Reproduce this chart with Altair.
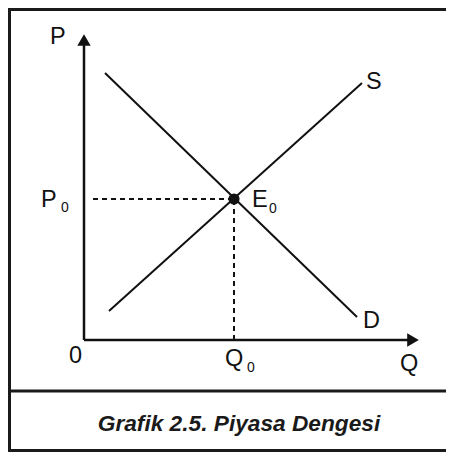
import altair as alt
import pandas as pd

# Supply / demand curves (start -> end), in Q/P units
curve_names = ["D", "S"]
curve_q1 = [21, 25]
curve_p1 = [267, 29]
curve_q2 = [273, 278]
curve_p2 = [23, 257]

# Equilibrium
eq_q = [150]
eq_p = [141]

# Axes extents
axis_q_end = 325
axis_p_end = 296
arrow_q = [0, 329]
arrow_p = [300, 0]
arrow_shape = ["triangle-up", "triangle-right"]

# Dashed guide start
guide_q_start = 9

# Main labels (left x, baseline y)
label_text = ["P", "S", "P", "E", "D", "0", "Q", "Q"]
label_q = [-34, 282, -43, 168, 279, -15, 141, 316]
label_p = [296, 251, 133, 133, 12, -23, -26, -31]

# Subscripts
sub_text = ["0", "0", "0"]
sub_q = [-23, 185, 163]
sub_p = [128, 127, -32]

caption = ["Grafik 2.5. Piyasa Dengesi"]

W, H = 438, 444
FONT = "Liberation Sans"
INK = "#111111"

xs = alt.Scale(domain=[-76, 362], nice=False, zero=False)
ys = alt.Scale(domain=[332 - H, 332], nice=False, zero=False)
X = lambda f: alt.X(f, type="quantitative", scale=xs, axis=None)
Y = lambda f: alt.Y(f, type="quantitative", scale=ys, axis=None)

axes_df = pd.DataFrame({"q": [0, 0], "p": [0, 0], "q2": [0, axis_q_end], "p2": [axis_p_end, 0]})
axes = alt.Chart(axes_df).mark_rule(color=INK, strokeWidth=2.5).encode(
    x=X("q"), y=Y("p"), x2="q2", y2="p2")

arrows_df = pd.DataFrame({"q": arrow_q, "p": arrow_p, "shape": arrow_shape})
arrows = alt.Chart(arrows_df).mark_point(filled=True, color=INK, size=180, opacity=1).encode(
    x=X("q"), y=Y("p"), shape=alt.Shape("shape:N", scale=None, legend=None))

guides_df = pd.DataFrame({"q": [guide_q_start, eq_q[0]], "p": [eq_p[0], 0],
                          "q2": [eq_q[0], eq_q[0]], "p2": [eq_p[0], eq_p[0]]})
guides = alt.Chart(guides_df).mark_rule(color=INK, strokeWidth=2, strokeDash=[5, 4]).encode(
    x=X("q"), y=Y("p"), x2="q2", y2="p2")

curves_df = pd.DataFrame({"name": curve_names, "q": curve_q1, "p": curve_p1, "q2": curve_q2, "p2": curve_p2})
curves = alt.Chart(curves_df).mark_rule(color=INK, strokeWidth=2).encode(
    x=X("q"), y=Y("p"), x2="q2", y2="p2", detail="name:N")

eq_df = pd.DataFrame({"q": eq_q, "p": eq_p})
eq = alt.Chart(eq_df).mark_circle(color=INK, size=125, opacity=1).encode(x=X("q"), y=Y("p"))

labels_df = pd.DataFrame({"t": label_text, "q": label_q, "p": label_p})
labels = alt.Chart(labels_df).mark_text(font=FONT, fontSize=23.5, color=INK, align="left",
                                        baseline="alphabetic").encode(x=X("q"), y=Y("p"), text="t:N")

subs_df = pd.DataFrame({"t": sub_text, "q": sub_q, "p": sub_p})
subs = alt.Chart(subs_df).mark_text(font=FONT, fontSize=14, color=INK, align="left",
                                    baseline="alphabetic").encode(x=X("q"), y=Y("p"), text="t:N")

cap_df = pd.DataFrame({"t": caption})
cap = alt.Chart(cap_df).mark_text(font=FONT, fontSize=22.7, fontWeight="bold", fontStyle="italic",
                                  color="#1a1a1a", align="center", baseline="alphabetic").encode(
    x=alt.value(231), y=alt.value(423), text="t:N")

border_df = pd.DataFrame({"k": ["top", "sep", "bottom"], "yy": [1.5, 383, H - 1.5]})
hborders = alt.Chart(border_df).mark_rule(color="#1a1a1a", strokeWidth=3).encode(
    y=alt.Y("yy:Q", scale=None), x=alt.value(0), x2=alt.value(W))
vborder = alt.Chart(pd.DataFrame({"k": ["left"]})).mark_rule(color="#1a1a1a", strokeWidth=3).encode(
    x=alt.value(1.5), y=alt.value(0), y2=alt.value(H))

chart = alt.layer(axes, arrows, guides, curves, eq, labels, subs, cap, hborders, vborder).properties(
    width=W, height=H, padding=0, autosize=alt.AutoSizeParams(type="none")
).configure_view(stroke=None).configure(background="white")

chart.save("out.html", embed_options={"renderer": "svg", "actions": False})
